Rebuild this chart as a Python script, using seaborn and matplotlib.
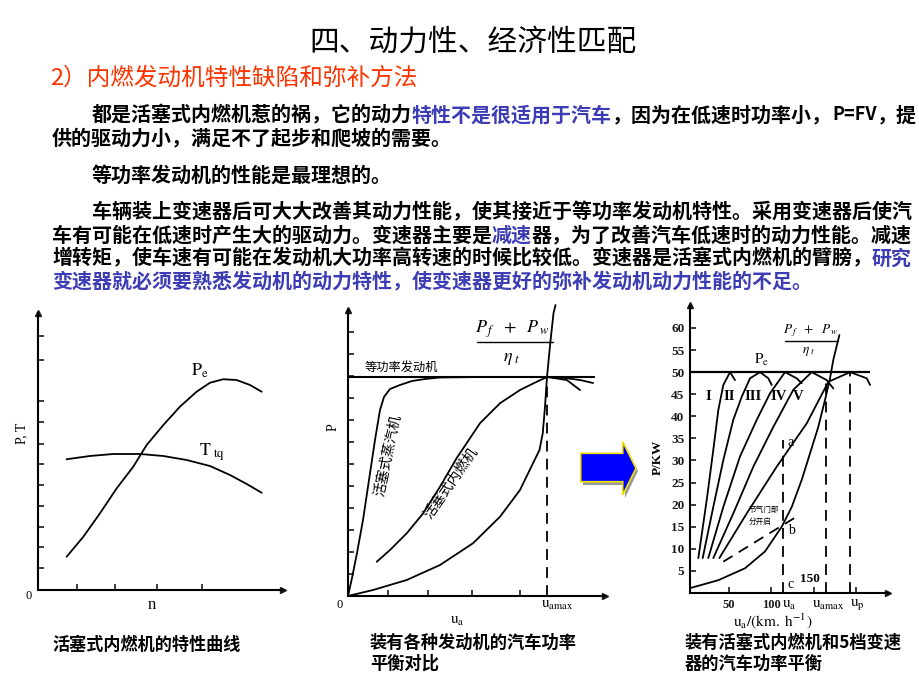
import matplotlib
matplotlib.use('Agg')
import matplotlib.pyplot as plt
from matplotlib.patches import Polygon
import seaborn as sns

# ---------------- data ----------------
# panel 1: engine characteristic
pe_n = [13.0, 20.6, 28.2, 35.8, 43.3, 49.4, 57.0, 64.5, 72.1, 78.2, 84.2, 90.3, 96.4, 101.7]
pe_val = [13.3, 21.3, 30.7, 40.7, 49.3, 58.0, 66.0, 73.3, 79.3, 82.9, 84.3, 84.0, 82.0, 79.3]
tq_n = [13.0, 23.6, 34.2, 46.4, 57.0, 67.6, 78.2, 87.3, 94.9, 101.7]
tq_val = [52.3, 53.6, 54.4, 54.4, 53.6, 52.0, 49.6, 46.0, 42.4, 38.9]
p1_yticks = [8.8, 17.2, 25.2, 33.6, 42.0, 50.4, 58.4, 67.2, 75.6, 92.0, 101.6]
p1_xticks = [17.7, 35.0, 54.1, 74.5]

# panel 2: power balance with different engines
steam_u = [0, 1.6, 3.6, 6.0, 8.4, 10.8, 12.8, 14.4, 16.8, 20.8, 25.6, 30.8, 36.8, 52.8, 68.8, 79.6, 86.8, 92.8, 98.0]
steam_p = [0, 7.2, 17.2, 30.4, 46.4, 62.4, 74.4, 79.6, 82.8, 84.4, 86.0, 86.8, 87.4, 87.6, 87.6, 87.6, 87.2, 86.4, 85.2]
ice_u = [11.5, 16.8, 23.5, 30.1, 36.8, 43.5, 52.8, 60.8, 68.8, 75.5, 79.6, 87.5, 92.8]
ice_p = [13.7, 18.4, 25.1, 33.1, 43.7, 55.2, 69.1, 77.1, 82.4, 85.7, 87.6, 86.4, 82.4]
res2_u = [0, 10.0, 23.5, 36.8, 50.0, 60.8, 68.8, 74.0, 76.6, 77.9, 78.8, 79.6, 80.9, 82.2, 83.0]
res2_p = [0, 2.4, 6.4, 12.4, 21.1, 31.7, 42.4, 53.1, 58.4, 65.1, 75.7, 87.6, 101.1, 113.1, 116.4]
const_power = 87.6
const_u_end = 98.8
u_max2 = 79.6
p2_yticks = [8.8, 17.6, 26.4, 35.2, 44.0, 52.8, 61.6, 70.4, 79.2, 88.0, 96.8, 105.6]
p2_xticks = [15.9, 31.9, 49.7, 68.8]

# panel 3: 5-speed gearbox power balance (km/h, kW)
gear1_v = [14.5, 24.4, 32.1, 38.0, 43.9, 51.8, 57.6]
gear1_p = [7.9, 21.1, 32.4, 41.4, 47.1, 50.0, 48.2]
gear2_v = [19.6, 32.1, 43.9, 55.6, 65.5, 75.3, 87.1, 96.8, 100.8]
gear2_p = [7.9, 19.5, 30.1, 39.2, 44.4, 48.6, 50.0, 48.6, 47.1]
gear3_v = [26.2, 43.9, 63.5, 83.2, 98.8, 116.5, 130.2, 136.1]
gear3_p = [7.9, 19.5, 30.9, 39.2, 45.2, 50.0, 48.6, 47.5]
gear4_v = [32.1, 55.6, 79.2, 102.7, 126.2, 147.9, 165.5, 173.3]
gear4_p = [7.9, 18.0, 28.6, 37.6, 46.0, 50.0, 48.2, 46.3]
gear5_v = [39.2, 71.4, 106.7, 142.0, 167.4, 193.0, 212.6, 216.5]
gear5_p = [7.9, 18.0, 28.6, 38.4, 47.8, 50.0, 48.6, 47.1]
res3_v = [4.7, 38.0, 69.4, 92.9, 112.6, 124.4, 136.1, 155.6, 163.5, 169.4, 173.3, 180.4]
res3_p = [1.1, 2.9, 5.6, 9.4, 15.0, 19.5, 25.6, 37.6, 43.7, 48.6, 52.8, 58.4]
throttle_v = [43.9, 130.2]
throttle_p = [7.1, 17.3]
pe_max = 50
pe_v_end = 216.5
ua_v, ua_top = 114.5, 34.6
uamax_v, uamax_top = 165.0, 47.8
up_v, up_top = 193.0, 50.0
p3_yticks = [5, 10, 15, 20, 25, 30, 35, 40, 45, 50, 55, 60]
p3_xticks = [50, 100, 150, 200]
p3_xlabels = ['50', '100', '', '']
gear_labels = ['I', 'II', 'III', 'IV', 'V']

# ---------------- style ----------------
sns.set_theme(style='white')
plt.rcParams['font.family'] = ['Noto Sans CJK SC', 'DejaVu Sans']
plt.rcParams['mathtext.fontset'] = 'stix'
plt.rcParams['axes.unicode_minus'] = False

W, H = 920, 691
fig = plt.figure(figsize=(9.2, 6.91), dpi=100)
fig.patch.set_facecolor('white')
renderer = fig.canvas.get_renderer()
SERIF = ['Liberation Serif', 'DejaVu Serif']
BLUE = '#3c3cb4'
RED = '#ff3300'


def add_ax(x0, y0, x1, y1):
    ax = fig.add_axes([x0 / W, 1 - y1 / H, (x1 - x0) / W, (y1 - y0) / H])
    ax.set_facecolor('none')
    for s in ['top', 'right']:
        ax.spines[s].set_visible(False)
    for s in ['left', 'bottom']:
        ax.spines[s].set_color('black')
        ax.spines[s].set_linewidth(1.5)
    ax.plot(1, 0, '>', color='k', ms=5, transform=ax.transAxes, clip_on=False)
    ax.plot(0, 1, '^', color='k', ms=5, transform=ax.transAxes, clip_on=False)
    ax.tick_params(direction='in', length=4, width=1.2, colors='k',
                   bottom=True, left=True, top=False, right=False)
    return ax


def ftext(x, y, s, **kw):
    kw.setdefault('ha', 'center')
    kw.setdefault('va', 'center')
    kw.setdefault('color', 'black')
    return fig.text(x / W, 1 - y / H, s, **kw)


def curve(ax, x, y, **kw):
    kw.setdefault('color', 'black')
    kw.setdefault('lw', 1.3)
    sns.lineplot(x=x, y=y, ax=ax, sort=False, estimator=None, **kw)
    ax.lines[-1].set_clip_on(False)


def seg_line(x, y, segs, size=14.4):
    for item in segs:
        s, c = item[0], item[1]
        fs = item[2] if len(item) > 2 else size
        t = ftext(x, y, s, ha='left', color=c, fontsize=fs, fontweight='bold')
        x = t.get_window_extent(renderer).x1


# ---------------- text block ----------------
ftext(473, 42, '四、动力性、经济性匹配', fontsize=21.4)
ftext(50, 78, '2）内燃发动机特性缺陷和弥补方法', ha='left', fontsize=17, color=RED)
seg_line(92, 115, [('都是活塞式内燃机惹的祸，它的动力', 'black'), ('特性不是很适用于汽车', BLUE),
                   ('，因为在低速时功率小，', 'black'), ('P=FV', 'black', 13), ('，提', 'black')])
seg_line(52, 138, [('供的驱动力小，满足不了起步和爬坡的需要。', 'black')])
seg_line(92, 175, [('等功率发动机的性能是最理想的。', 'black')])
seg_line(92, 212, [('车辆装上变速器后可大大改善其动力性能，使其接近于等功率发动机特性。采用变速器后使汽', 'black')])
seg_line(52, 235, [('车有可能在低速时产生大的驱动力。变速器主要是', 'black'), ('减速', BLUE),
                   ('器，为了改善汽车低速时的动力性能。减速', 'black')])
seg_line(52, 258, [('增转矩，使车速有可能在发动机大功率高转速的时候比较低。变速器是活塞式内燃机的臂膀，', 'black'),
                   ('研究', BLUE)])
seg_line(52, 281, [('变速器就必须要熟悉发动机的动力特性，使变速器更好的弥补发动机动力性能的不足。', BLUE)])

# ---------------- panel 1 ----------------
ax1 = add_ax(38, 313, 283, 590)
ax1.set_xlim(0, 111.4)
ax1.set_ylim(0, 110.8)
curve(ax1, pe_n, pe_val)
curve(ax1, tq_n, tq_val)
ax1.set_xticks(p1_xticks)
ax1.set_yticks(p1_yticks)
ax1.set_xticklabels([])
ax1.set_yticklabels([])
ftext(22, 433, 'P, T', rotation=90, fontsize=10, family=SERIF)
ftext(29, 596, '0', fontsize=9, family=SERIF)
ftext(152, 605, 'n', fontsize=12, family=SERIF)
ftext(200, 371, r'$\mathrm{P}_{\mathrm{e}}$', fontsize=13)
ftext(212, 452, r'$\mathrm{T}_{\ \mathrm{tq}}$', fontsize=13)
ftext(52, 645, '活塞式内燃机的特性曲线', ha='left', fontsize=12.3, fontweight='bold')

# ---------------- panel 2 ----------------
ax2 = add_ax(348, 310, 605, 596)
ax2.set_xlim(0, 102.8)
ax2.set_ylim(0, 114.4)
ax2.hlines(const_power, 0, const_u_end, color='black', lw=1.5)
curve(ax2, steam_u, steam_p)
curve(ax2, ice_u, ice_p)
curve(ax2, res2_u, res2_p)
ax2.vlines(u_max2, 0, const_power, color='black', lw=1.3, linestyles=(0, (6, 4)))
ax2.set_xticks(p2_xticks)
ax2.set_yticks(p2_yticks)
ax2.set_xticklabels([])
ax2.set_yticklabels([])
ftext(401, 368, '等功率发动机', ha='center', fontsize=8.8)
ftext(512, 329, r'$P_{\,f}\ \ +\ \ P_{\,w}$', fontsize=13)
fig.add_artist(plt.Line2D([477 / W, 553 / W], [1 - 342 / H, 1 - 342 / H], color='black', lw=1))
ftext(512, 358, r'$\eta_{\ t}$', fontsize=13)
ftext(388, 455, '活塞式蒸汽机', rotation=78, fontsize=10)
ftext(451, 483, '活塞式内燃机', rotation=55, fontsize=10)
ftext(333, 427, 'P', rotation=90, fontsize=10, family=SERIF)
ftext(340, 605, '0', fontsize=9, family=SERIF)
ftext(457, 619, r'$\mathrm{u}_{\mathrm{a}}$', fontsize=11)
ftext(557, 604, r'$\mathrm{u}_{\mathrm{amax}}$', fontsize=11)
ftext(370, 643, '装有各种发动机的汽车功率', ha='left', fontsize=12.4, fontweight='bold')
ftext(370, 664, '平衡对比', ha='left', fontsize=12.4, fontweight='bold')

# blue arrow
shadow = [(583, 457), (625, 457), (625, 445), (638, 471), (625, 498), (625, 485), (583, 485)]
arrow = [(580.7, 453.3), (622.7, 453.3), (622.7, 441.7), (636, 468.3), (622.7, 495), (622.7, 481.7), (580.7, 481.7)]
fig.add_artist(Polygon([(x / W, 1 - y / H) for x, y in shadow], closed=True,
                       transform=fig.transFigure, facecolor='#9a9a9a', edgecolor='none'))
fig.add_artist(Polygon([(x / W, 1 - y / H) for x, y in arrow], closed=True,
                       transform=fig.transFigure, facecolor='#0000ff', edgecolor='#f0e000', lw=1.2))

# ---------------- panel 3 ----------------
ax3 = add_ax(690, 305, 888, 593)
ax3.set_xlim(4.7, 237.6)
ax3.set_ylim(0, 65.2)
ax3.hlines(pe_max, 4.7, pe_v_end, color='black', lw=1.6)
for gv, gp in [(gear1_v, gear1_p), (gear2_v, gear2_p), (gear3_v, gear3_p),
               (gear4_v, gear4_p), (gear5_v, gear5_p)]:
    curve(ax3, gv, gp)
curve(ax3, res3_v, res3_p)
curve(ax3, throttle_v, throttle_p, linestyle=(0, (6, 4)))
for xv, top in [(ua_v, ua_top), (uamax_v, uamax_top), (up_v, up_top)]:
    ax3.vlines(xv, 0, top, color='black', lw=1.3, linestyles=(0, (6, 4)))
ax3.set_yticks(p3_yticks)
ax3.set_yticklabels([str(v) for v in p3_yticks], family=SERIF, fontweight='bold', fontsize=9.5)
ax3.set_xticks(p3_xticks)
ax3.set_xticklabels(p3_xlabels, family=SERIF, fontweight='bold', fontsize=9)
ax3.tick_params(axis='both', pad=4)
for lab, x in zip(gear_labels, [708.3, 729.3, 753.3, 778.3, 798.3]):
    ftext(x, 397, lab, fontsize=10.5, family=SERIF, fontweight='bold')
ftext(762, 359, r'$\mathrm{P}_{\mathrm{e}}$', fontsize=11)
ftext(811, 331, r'$P_{\,f}\ \ +\ \ P_{\,w}$', fontsize=9.5)
fig.add_artist(plt.Line2D([785 / W, 838 / W], [1 - 341 / H, 1 - 341 / H], color='black', lw=1))
ftext(809, 352, r'$\eta_{\ t}$', fontsize=9.5)
ftext(791, 443, 'a', fontsize=10, family=SERIF)
ftext(791, 530, 'b', fontsize=10, family=SERIF)
ftext(791, 585, 'c', fontsize=10, family=SERIF)
ftext(810, 579, '150', fontsize=9.5, family=SERIF, fontweight='bold')
ftext(749, 510, '节气门部', ha='left', fontsize=5.5)
ftext(749, 522, '分开启', ha='left', fontsize=5.5)
ftext(658, 457, 'P/KW', rotation=90, fontsize=9.5, family=SERIF, fontweight='bold')
ftext(789, 604, r'$\mathrm{u}_{\mathrm{a}}$', fontsize=11)
ftext(828, 604, r'$\mathrm{u}_{\mathrm{amax}}$', fontsize=11)
ftext(857, 604, r'$\mathrm{u}_{\mathrm{p}}$', fontsize=11)
ftext(773, 621, r'$\mathrm{u}_{\mathrm{a}}/(\mathrm{km.\ h^{-1}})$', fontsize=11)
ftext(685, 643, '装有活塞式内燃机和5档变速', ha='left', fontsize=12.4, fontweight='bold')
ftext(685, 664, '器的汽车功率平衡', ha='left', fontsize=12.4, fontweight='bold')

fig.savefig('out.png', dpi=100, facecolor='white')
